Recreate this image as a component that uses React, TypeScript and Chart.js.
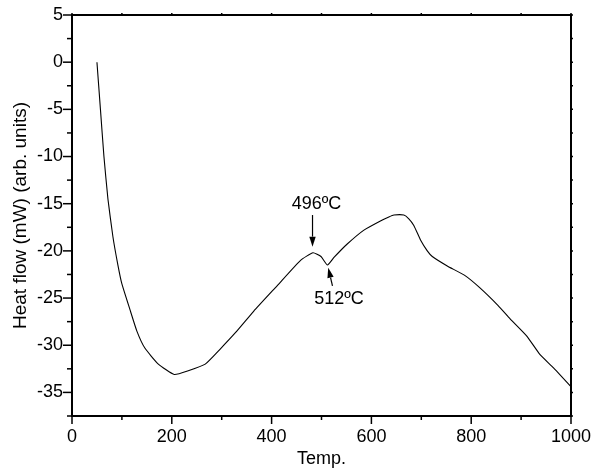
import React, { useEffect, useRef } from "react";
import { Chart, registerables } from "chart.js";

Chart.register(...registerables);

const temps = [50, 57, 64, 72, 82, 92, 100, 116, 130, 146, 173, 205, 233, 267, 297, 327, 364, 411, 458, 483, 499, 512, 525, 551, 585, 619, 635, 645, 665, 675, 685, 699, 712, 722, 752, 787, 817, 854, 878, 911, 938, 965, 1000];
const heatFlow = [0, -5.0, -10.0, -14.5, -18.5, -21.5, -23.5, -26.2, -28.5, -30.3, -32.0, -33.1, -32.7, -32.0, -30.4, -28.7, -26.4, -23.7, -21.0, -20.2, -20.6, -21.5, -20.7, -19.3, -17.8, -16.8, -16.4, -16.2, -16.2, -16.6, -17.3, -18.9, -20.0, -20.6, -21.6, -22.6, -23.9, -25.8, -27.2, -29.0, -31.0, -32.4, -34.4];

const xMajorTicks = [0, 200, 400, 600, 800, 1000];
const xMinorTicks = [100, 300, 500, 700, 900];
const yMajorTicks = [5, 0, -5, -10, -15, -20, -25, -30, -35];
const yMinorTicks = [2.5, -2.5, -7.5, -12.5, -17.5, -22.5, -27.5, -32.5, -37.5];

const annotations = [
  { text: "496ºC", tx: 490, ty: -15.55, ax1: 482, ay1: -16.2, ax2: 482, ay2: -19.55 },
  { text: "512ºC", tx: 535, ty: -25.6, ax1: 522, ay1: -23.7, ax2: 513.5, ay2: -21.8 },
];

const FONT = "'Liberation Sans', Arial, sans-serif";

const framePlugin = {
  id: "framePlugin",
  afterDraw(chart: any) {
    const { ctx, chartArea } = chart;
    const { left, right, top, bottom } = chartArea;
    const xs = chart.scales.x;
    const ys = chart.scales.y;
    ctx.save();
    ctx.strokeStyle = "#000";
    ctx.lineWidth = 1.5;
    const line = (x1: number, y1: number, x2: number, y2: number) => {
      ctx.beginPath();
      ctx.moveTo(x1, y1);
      ctx.lineTo(x2, y2);
      ctx.stroke();
    };
    xMajorTicks.forEach((v) => {
      const p = xs.getPixelForValue(v);
      line(p, bottom, p, bottom + 8);
      line(p, top, p, top - 2);
    });
    xMinorTicks.forEach((v) => {
      const p = xs.getPixelForValue(v);
      line(p, bottom, p, bottom + 4);
      line(p, top, p, top - 2);
    });
    yMajorTicks.forEach((v) => {
      const p = ys.getPixelForValue(v);
      line(left, p, left - 9, p);
      line(right, p, right + 2, p);
    });
    yMinorTicks.forEach((v) => {
      const p = ys.getPixelForValue(v);
      line(left, p, left - 5, p);
      line(right, p, right + 2, p);
    });
    ctx.lineWidth = 2;
    ctx.strokeRect(left, top, right - left, bottom - top);

    ctx.fillStyle = "#000";
    ctx.font = `18px ${FONT}`;
    ctx.textAlign = "center";
    ctx.textBaseline = "alphabetic";
    ctx.lineWidth = 1.2;
    annotations.forEach((a) => {
      ctx.fillText(a.text, xs.getPixelForValue(a.tx), ys.getPixelForValue(a.ty));
      const x1 = xs.getPixelForValue(a.ax1);
      const y1 = ys.getPixelForValue(a.ay1);
      const x2 = xs.getPixelForValue(a.ax2);
      const y2 = ys.getPixelForValue(a.ay2);
      const ang = Math.atan2(y2 - y1, x2 - x1);
      const hl = 10;
      const hw = 3.2;
      const bx = x2 - hl * Math.cos(ang);
      const by = y2 - hl * Math.sin(ang);
      line(x1, y1, bx, by);
      ctx.beginPath();
      ctx.moveTo(x2, y2);
      ctx.lineTo(bx + hw * Math.sin(ang), by - hw * Math.cos(ang));
      ctx.lineTo(bx - hw * Math.sin(ang), by + hw * Math.cos(ang));
      ctx.closePath();
      ctx.fill();
    });
    ctx.restore();
  },
};

export default function App() {
  const ref = useRef<HTMLCanvasElement>(null);
  useEffect(() => {
    if (!ref.current) return;
    const chart = new Chart(ref.current, {
      type: "scatter",
      data: {
        datasets: [
          {
            data: temps.map((t, i) => ({ x: t, y: heatFlow[i] })),
            showLine: true,
            borderColor: "#000",
            borderWidth: 1.1,
            pointRadius: 0,
            tension: 0.15,
          } as any,
        ],
      },
      options: {
        animation: false,
        responsive: false,
        layout: { padding: { left: 0, top: 15, right: 23, bottom: 0 } },
        plugins: { legend: { display: false }, tooltip: { enabled: false } },
        scales: {
          x: {
            type: "linear",
            min: 0,
            max: 1000,
            afterBuildTicks: (s: any) => {
              s.ticks = xMajorTicks.map((v) => ({ value: v }));
            },
            afterFit: (s: any) => {
              s.height = 52;
              s.paddingLeft = 0;
              s.paddingRight = 0;
            },
            grid: { display: false, drawTicks: false },
            border: { display: false },
            ticks: {
              color: "#000",
              font: { family: FONT, size: 18, lineHeight: 1 },
              padding: 12,
              maxRotation: 0,
              autoSkip: false,
              callback: (v: any) => String(v),
            },
            title: {
              display: true,
              text: "Temp.",
              color: "#000",
              font: { family: FONT, size: 18, lineHeight: 1 },
              padding: { top: 0, bottom: 0 },
            },
          },
          y: {
            type: "linear",
            min: -37.5,
            max: 5,
            afterBuildTicks: (s: any) => {
              s.ticks = yMajorTicks.map((v) => ({ value: v }));
            },
            afterFit: (s: any) => {
              s.width = 72;
              s.paddingTop = 0;
              s.paddingBottom = 0;
            },
            grid: { display: false, drawTicks: false },
            border: { display: false },
            ticks: {
              color: "#000",
              font: { family: FONT, size: 18, lineHeight: 1 },
              padding: 9,
              autoSkip: false,
              callback: (v: any) => String(v),
            },
            title: {
              display: true,
              text: "Heat flow (mW) (arb. units)",
              color: "#000",
              font: { family: FONT, size: 19, lineHeight: 1 },
              padding: { top: 11, bottom: 0 },
            },
          },
        },
      },
      plugins: [framePlugin],
    });
    return () => chart.destroy();
  }, []);
  return (
    <div style={{ position: "fixed", left: 0, top: 0, width: 594, height: 468, background: "#fff" }}>
      <canvas ref={ref} width={594} height={468} />
    </div>
  );
}
